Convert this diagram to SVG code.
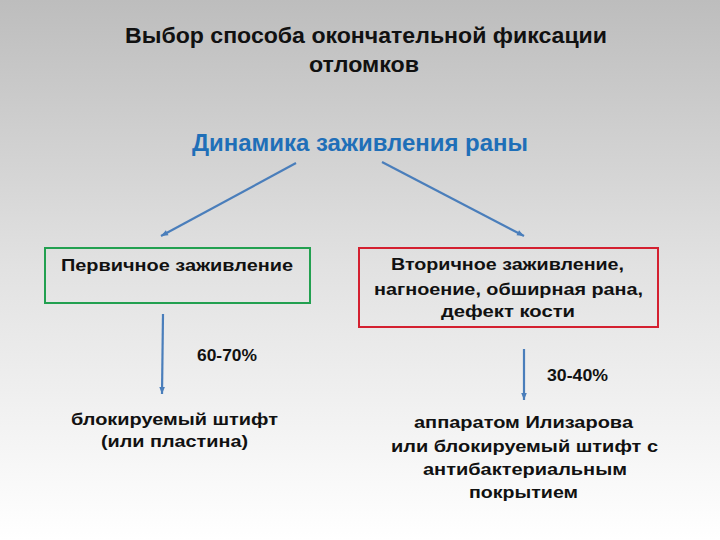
<svg xmlns="http://www.w3.org/2000/svg" width="720" height="540" viewBox="0 0 720 540">
<defs>
<linearGradient id="bg" x1="0" y1="0" x2="0" y2="1">
<stop offset="0" stop-color="#bdbdbd"/>
<stop offset="0.5" stop-color="#e2e2e2"/>
<stop offset="1" stop-color="#ffffff"/>
</linearGradient>
<marker id="ah" viewBox="0 0 10 10" refX="10" refY="5" markerWidth="8" markerHeight="7" orient="auto" markerUnits="userSpaceOnUse">
<path d="M0,1 L10,5 L0,9 z" fill="#4a7ebb"/>
</marker>
<style>
text{font-family:"Liberation Sans",Arial,sans-serif;font-weight:bold;fill:#111;text-anchor:middle}
.t{font-size:22px}
.h{font-size:23px;fill:#1f6fb8}
.n{font-size:16px}
.p{font-size:16px}
.c{stroke:#4a7ebb;stroke-width:2.2;fill:none;marker-end:url(#ah)}
</style>
</defs>
<rect width="720" height="540" fill="url(#bg)"/>
<g id="title">
<text class="t" x="366" y="43" textLength="482" lengthAdjust="spacingAndGlyphs">Выбор способа окончательной фиксации</text>
<text class="t" x="364" y="72" textLength="110" lengthAdjust="spacingAndGlyphs">отломков</text>
</g>
<g id="root"><text class="h" x="360" y="151" textLength="336" lengthAdjust="spacingAndGlyphs">Динамика заживления раны</text></g>
<g id="connectors">
<line class="c" x1="296" y1="163" x2="161" y2="236"/>
<line class="c" x1="382" y1="162" x2="524" y2="236"/>
<line class="c" x1="163" y1="314" x2="162" y2="394"/>
<line class="c" x1="524" y1="349" x2="524" y2="400"/>
</g>
<g id="primary">
<rect x="45" y="248" width="265" height="55" fill="none" stroke="#22a050" stroke-width="2"/>
<text class="n" x="177" y="271" textLength="232" lengthAdjust="spacingAndGlyphs">Первичное заживление</text>
</g>
<g id="secondary">
<rect x="359" y="248" width="299" height="79" fill="none" stroke="#d42030" stroke-width="2"/>
<text class="n" x="507.5" y="270" textLength="233" lengthAdjust="spacingAndGlyphs">Вторичное заживление,</text>
<text class="n" x="508.5" y="295" textLength="269" lengthAdjust="spacingAndGlyphs">нагноение, обширная рана,</text>
<text class="n" x="508" y="317" textLength="134" lengthAdjust="spacingAndGlyphs">дефект кости</text>
</g>
<g id="label1"><text class="p" x="227" y="361" textLength="60" lengthAdjust="spacingAndGlyphs">60-70%</text></g>
<g id="label2"><text class="p" x="577.5" y="381" textLength="61" lengthAdjust="spacingAndGlyphs">30-40%</text></g>
<g id="result1">
<text class="n" x="174.5" y="425" textLength="207" lengthAdjust="spacingAndGlyphs">блокируемый штифт</text>
<text class="n" x="174.5" y="447" textLength="147" lengthAdjust="spacingAndGlyphs">(или пластина)</text>
</g>
<g id="result2">
<text class="n" x="523.5" y="428" textLength="219" lengthAdjust="spacingAndGlyphs">аппаратом Илизарова</text>
<text class="n" x="524.5" y="452" textLength="267" lengthAdjust="spacingAndGlyphs">или блокируемый штифт с</text>
<text class="n" x="525" y="475" textLength="204" lengthAdjust="spacingAndGlyphs">антибактериальным</text>
<text class="n" x="523.5" y="498" textLength="109" lengthAdjust="spacingAndGlyphs">покрытием</text>
</g>
</svg>
